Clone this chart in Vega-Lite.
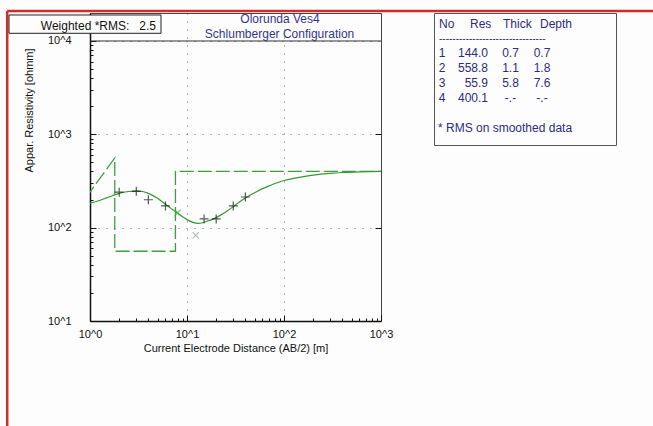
{
  "$schema": "https://vega.github.io/schema/vega-lite/v6.json",
  "background": "#fdfdfd",
  "padding": {"left": 5, "top": 9, "right": 0, "bottom": 0},
  "config": {
    "font": "Liberation Sans",
    "view": {"stroke": "#333", "strokeWidth": 1},
    "axis": {
      "labelFont": "Liberation Sans", "titleFont": "Liberation Sans",
      "labelFontSize": 11, "titleFontSize": 11, "titleFontWeight": "normal",
      "labelColor": "#111", "titleColor": "#111", "domainColor": "#111", "tickColor": "#111"
    },
    "text": {"font": "Liberation Sans"}
  },
  "datasets": {
    "model": [
      {"depth": 0.7, "res": 144.0},
      {"depth": 1.8, "res": 558.8},
      {"depth": 1.8, "res": 55.9},
      {"depth": 7.6, "res": 55.9},
      {"depth": 7.6, "res": 400.1},
      {"depth": 1000, "res": 400.1}
    ],
    "curve": [
      {"ab2": 1, "rho": 183}, {"ab2": 1.2, "rho": 193}, {"ab2": 1.4, "rho": 204}, {"ab2": 1.7, "rho": 220},
      {"ab2": 2, "rho": 233}, {"ab2": 2.5, "rho": 244}, {"ab2": 3, "rho": 248}, {"ab2": 3.5, "rho": 244},
      {"ab2": 4, "rho": 233}, {"ab2": 5, "rho": 205}, {"ab2": 6, "rho": 178}, {"ab2": 7, "rho": 158},
      {"ab2": 8, "rho": 143}, {"ab2": 9, "rho": 131}, {"ab2": 10, "rho": 122}, {"ab2": 11.5, "rho": 114},
      {"ab2": 13, "rho": 111}, {"ab2": 14.5, "rho": 113}, {"ab2": 16, "rho": 117}, {"ab2": 18, "rho": 122},
      {"ab2": 20, "rho": 128}, {"ab2": 25, "rho": 147}, {"ab2": 30, "rho": 168}, {"ab2": 35, "rho": 190},
      {"ab2": 40, "rho": 208}, {"ab2": 50, "rho": 237}, {"ab2": 60, "rho": 262}, {"ab2": 70, "rho": 280},
      {"ab2": 85, "rho": 303}, {"ab2": 100, "rho": 320}, {"ab2": 130, "rho": 340}, {"ab2": 170, "rho": 357},
      {"ab2": 220, "rho": 370}, {"ab2": 300, "rho": 382}, {"ab2": 400, "rho": 390}, {"ab2": 600, "rho": 397},
      {"ab2": 1000, "rho": 401}
    ],
    "obs": [
      {"ab2": 2, "rho": 240, "kind": "field"},
      {"ab2": 3, "rho": 245, "kind": "field"},
      {"ab2": 4, "rho": 199, "kind": "field"},
      {"ab2": 6, "rho": 171, "kind": "field"},
      {"ab2": 15, "rho": 124, "kind": "field"},
      {"ab2": 20, "rho": 124, "kind": "field"},
      {"ab2": 30, "rho": 171, "kind": "field"},
      {"ab2": 40, "rho": 213, "kind": "field"},
      {"ab2": 8, "rho": 144, "kind": "smoothed"},
      {"ab2": 12.3, "rho": 83, "kind": "excluded"}
    ],
    "layers": [
      {"No": 1, "Res": 144.0, "Thick": 0.7, "Depth": 0.7},
      {"No": 2, "Res": 558.8, "Thick": 1.1, "Depth": 1.8},
      {"No": 3, "Res": 55.9, "Thick": 5.8, "Depth": 7.6},
      {"No": 4, "Res": 400.1, "Thick": null, "Depth": null}
    ]
  },
  "spacing": 53,
  "bounds": "flush",
  "hconcat": [
    {
      "width": 291,
      "height": 308,
      "view": {"stroke": "#444", "fill": "#fdfdfd"},
      "resolve": {"axis": {"x": "independent", "y": "independent"}},
      "layer": [
        {
          "data": {"name": "model"},
          "mark": {"type": "line", "color": "#3f9f3f", "strokeWidth": 1.3, "strokeDash": [14, 4], "clip": true},
          "encoding": {
            "x": {
              "field": "depth", "type": "quantitative",
              "scale": {"type": "log", "domain": [1, 1000], "nice": false},
              "axis": {
                "orient": "bottom", "values": [1, 10, 100, 1000],
                "labelExpr": "'10^' + round(log(datum.value)/LN10)",
                "labelFlush": false,
                "title": "Current Electrode Distance (AB/2) [m]",
                "grid": true, "gridDash": [1, 7], "gridColor": "#444", "gridOpacity": 0.8,
                "tickSize": -6, "labelPadding": 13, "titlePadding": 3, "domainWidth": 1.3
              }
            },
            "y": {
              "field": "res", "type": "quantitative",
              "scale": {"type": "log", "domain": [10, 19950], "nice": false},
              "axis": {
                "orient": "left", "values": [10, 100, 1000, 10000],
                "labelExpr": "'10^' + round(log(datum.value)/LN10)",
                "labelFlush": false,
                "title": "Appar. Resistivity [ohmm]",
                "grid": true, "gridDash": [1, 7], "gridColor": "#444", "gridOpacity": 0.8,
                "tickSize": -6, "labelPadding": 25, "domainWidth": 1.5,
                "titleX": -61, "titleY": 97, "titleAlign": "center", "titleBaseline": "middle", "titleAngle": -90
              }
            },
            "order": {"value": null}
          }
        },
        {
          "data": {"name": "curve"},
          "mark": {"type": "line", "color": "#339933", "strokeWidth": 1.2, "interpolate": "monotone", "clip": true},
          "encoding": {
            "x": {
              "field": "ab2", "type": "quantitative",
              "axis": {
                "orient": "bottom", "values": [2, 3, 4, 5, 6, 7, 8, 9, 20, 30, 40, 50, 60, 70, 80, 90, 200, 300, 400, 500, 600, 700, 800, 900],
                "labels": false, "domain": false, "grid": false, "tickSize": -3, "title": null
              }
            },
            "y": {
              "field": "rho", "type": "quantitative",
              "axis": {
                "orient": "left", "values": [20, 30, 40, 50, 60, 70, 80, 90, 200, 300, 400, 500, 600, 700, 800, 900, 2000, 3000, 4000, 5000, 6000, 7000, 8000, 9000],
                "labels": false, "domain": false, "grid": false, "tickSize": -3, "title": null
              }
            }
          }
        },
        {
          "data": {"name": "obs"},
          "mark": {"type": "point", "filled": false, "strokeWidth": 1.2, "size": 80, "clip": true},
          "encoding": {
            "x": {"field": "ab2", "type": "quantitative", "axis": null},
            "y": {
              "field": "rho", "type": "quantitative",
              "axis": {"orient": "right", "values": [100, 1000], "labels": false, "domain": false, "grid": false, "tickSize": -6, "title": null}
            },
            "shape": {
              "field": "kind", "type": "nominal", "legend": null,
              "scale": {"domain": ["field", "smoothed", "excluded"], "range": ["M-1,0L1,0M0,-1L0,1", "M-0.7,-0.7L0.7,0.7M-0.7,0.7L0.7,-0.7", "M-0.7,-0.7L0.7,0.7M-0.7,0.7L0.7,-0.7"]}
            },
            "color": {
              "field": "kind", "type": "nominal", "legend": null,
              "scale": {"domain": ["field", "smoothed", "excluded"], "range": ["#111111", "#4ea84e", "#8aa88a"]}
            }
          }
        },
        {
          "data": {"values": [{}]},
          "mark": {"type": "rule", "color": "#333", "strokeWidth": 1},
          "encoding": {
            "x": {"datum": 1, "type": "quantitative", "axis": null},
            "x2": {"datum": 1000},
            "y": {"datum": 10000, "type": "quantitative", "axis": null}
          }
        },
        {
          "data": {"values": [{}]},
          "mark": {"type": "rule", "color": "#d42a2a", "strokeWidth": 2.5, "clip": false},
          "encoding": {
            "x": {"datum": 0.1401, "type": "quantitative", "axis": null},
            "x2": {"datum": 651600},
            "y": {"datum": 20960, "type": "quantitative", "axis": null}
          }
        },
        {
          "data": {"values": [{}]},
          "mark": {"type": "rule", "color": "#d42a2a", "strokeWidth": 2.5, "clip": false},
          "encoding": {
            "x": {"datum": 0.1401, "type": "quantitative", "axis": null},
            "y": {"datum": 20960, "type": "quantitative", "axis": null},
            "y2": {"datum": 0.7316}
          }
        },
        {
          "data": {"values": [{}]},
          "mark": {"type": "rect", "fill": "#fdfdfd", "stroke": "#222", "strokeWidth": 1, "clip": false},
          "encoding": {
            "x": {"datum": 0.1462, "type": "quantitative", "axis": null},
            "x2": {"datum": 5.395},
            "y": {"datum": 18995, "type": "quantitative", "axis": null},
            "y2": {"datum": 12090}
          }
        },
        {
          "data": {"values": [{}]},
          "mark": {"type": "text", "align": "right", "baseline": "middle", "fontSize": 12, "color": "#111", "clip": false},
          "encoding": {
            "x": {"datum": 4.79, "type": "quantitative", "axis": null},
            "y": {"datum": 14478, "type": "quantitative", "axis": null},
            "text": {"value": "Weighted *RMS:\u00a0\u00a0 2.5"}
          }
        },
        {
          "data": {"values": [{}]},
          "mark": {"type": "text", "align": "center", "baseline": "middle", "fontSize": 12, "color": "#34348f"},
          "encoding": {
            "x": {"datum": 90.95, "type": "quantitative", "axis": null},
            "y": {"datum": 17080, "type": "quantitative", "axis": null},
            "text": {"value": "Olorunda Ves4"}
          }
        },
        {
          "data": {"values": [{}]},
          "mark": {"type": "text", "align": "center", "baseline": "middle", "fontSize": 12, "color": "#34348f"},
          "encoding": {
            "x": {"datum": 90, "type": "quantitative", "axis": null},
            "y": {"datum": 11797, "type": "quantitative", "axis": null},
            "text": {"value": "Schlumberger Configuration"}
          }
        }
      ]
    },
    {
      "width": 182,
      "height": 132,
      "view": {"stroke": "#555", "fill": "#fdfdfd"},
      "layer": [
        {
          "data": {"values": [{}]},
          "mark": {"type": "text", "align": "left", "baseline": "middle", "fontSize": 12, "color": "#2c2c80"},
          "encoding": {
            "x": {"datum": 5, "type": "quantitative", "scale": {"domain": [0, 182], "nice": false, "zero": false}, "axis": null},
            "y": {"datum": -0.933, "type": "quantitative", "scale": {"domain": [-1.647, 7.153], "nice": false, "zero": false, "reverse": true}, "axis": null},
            "text": {"value": "No"}
          }
        },
        {
          "data": {"values": [{}]},
          "mark": {"type": "text", "align": "left", "baseline": "middle", "fontSize": 12, "color": "#2c2c80"},
          "encoding": {"x": {"datum": 36, "type": "quantitative"}, "y": {"datum": -0.933, "type": "quantitative"}, "text": {"value": "Res"}}
        },
        {
          "data": {"values": [{}]},
          "mark": {"type": "text", "align": "left", "baseline": "middle", "fontSize": 12, "color": "#2c2c80"},
          "encoding": {"x": {"datum": 69, "type": "quantitative"}, "y": {"datum": -0.933, "type": "quantitative"}, "text": {"value": "Thick"}}
        },
        {
          "data": {"values": [{}]},
          "mark": {"type": "text", "align": "left", "baseline": "middle", "fontSize": 12, "color": "#2c2c80"},
          "encoding": {"x": {"datum": 106, "type": "quantitative"}, "y": {"datum": -0.933, "type": "quantitative"}, "text": {"value": "Depth"}}
        },
        {
          "data": {"values": [{}]},
          "mark": {"type": "text", "align": "left", "baseline": "middle", "fontSize": 10, "color": "#2c2c80"},
          "encoding": {"x": {"datum": 5, "type": "quantitative"}, "y": {"datum": 0.087, "type": "quantitative"}, "text": {"value": "--------------------------------"}}
        },
        {
          "data": {"values": [{}]},
          "mark": {"type": "text", "align": "left", "baseline": "middle", "fontSize": 12, "color": "#2c2c80"},
          "encoding": {"x": {"datum": 4, "type": "quantitative"}, "y": {"datum": 6, "type": "quantitative"}, "text": {"value": "* RMS on smoothed data"}}
        },
        {
          "data": {"name": "layers"},
          "mark": {"type": "text", "align": "center", "baseline": "middle", "fontSize": 12, "color": "#2c2c80"},
          "encoding": {"x": {"datum": 8, "type": "quantitative"}, "y": {"field": "No", "type": "quantitative"}, "text": {"field": "No", "type": "quantitative", "format": "d"}}
        },
        {
          "data": {"name": "layers"},
          "mark": {"type": "text", "align": "right", "baseline": "middle", "fontSize": 12, "color": "#2c2c80"},
          "encoding": {"x": {"datum": 54, "type": "quantitative"}, "y": {"field": "No", "type": "quantitative"}, "text": {"field": "Res", "type": "quantitative", "format": ".1f"}}
        },
        {
          "data": {"name": "layers"},
          "mark": {"type": "text", "align": "center", "baseline": "middle", "fontSize": 12, "color": "#2c2c80"},
          "encoding": {
            "x": {"datum": 76.5, "type": "quantitative"}, "y": {"field": "No", "type": "quantitative"},
            "text": {"condition": {"test": "datum.Thick == null", "value": "-.-"}, "field": "Thick", "type": "quantitative", "format": ".1f"}
          }
        },
        {
          "data": {"name": "layers"},
          "mark": {"type": "text", "align": "center", "baseline": "middle", "fontSize": 12, "color": "#2c2c80"},
          "encoding": {
            "x": {"datum": 108, "type": "quantitative"}, "y": {"field": "No", "type": "quantitative"},
            "text": {"condition": {"test": "datum.Depth == null", "value": "-.-"}, "field": "Depth", "type": "quantitative", "format": ".1f"}
          }
        }
      ]
    }
  ]
}
